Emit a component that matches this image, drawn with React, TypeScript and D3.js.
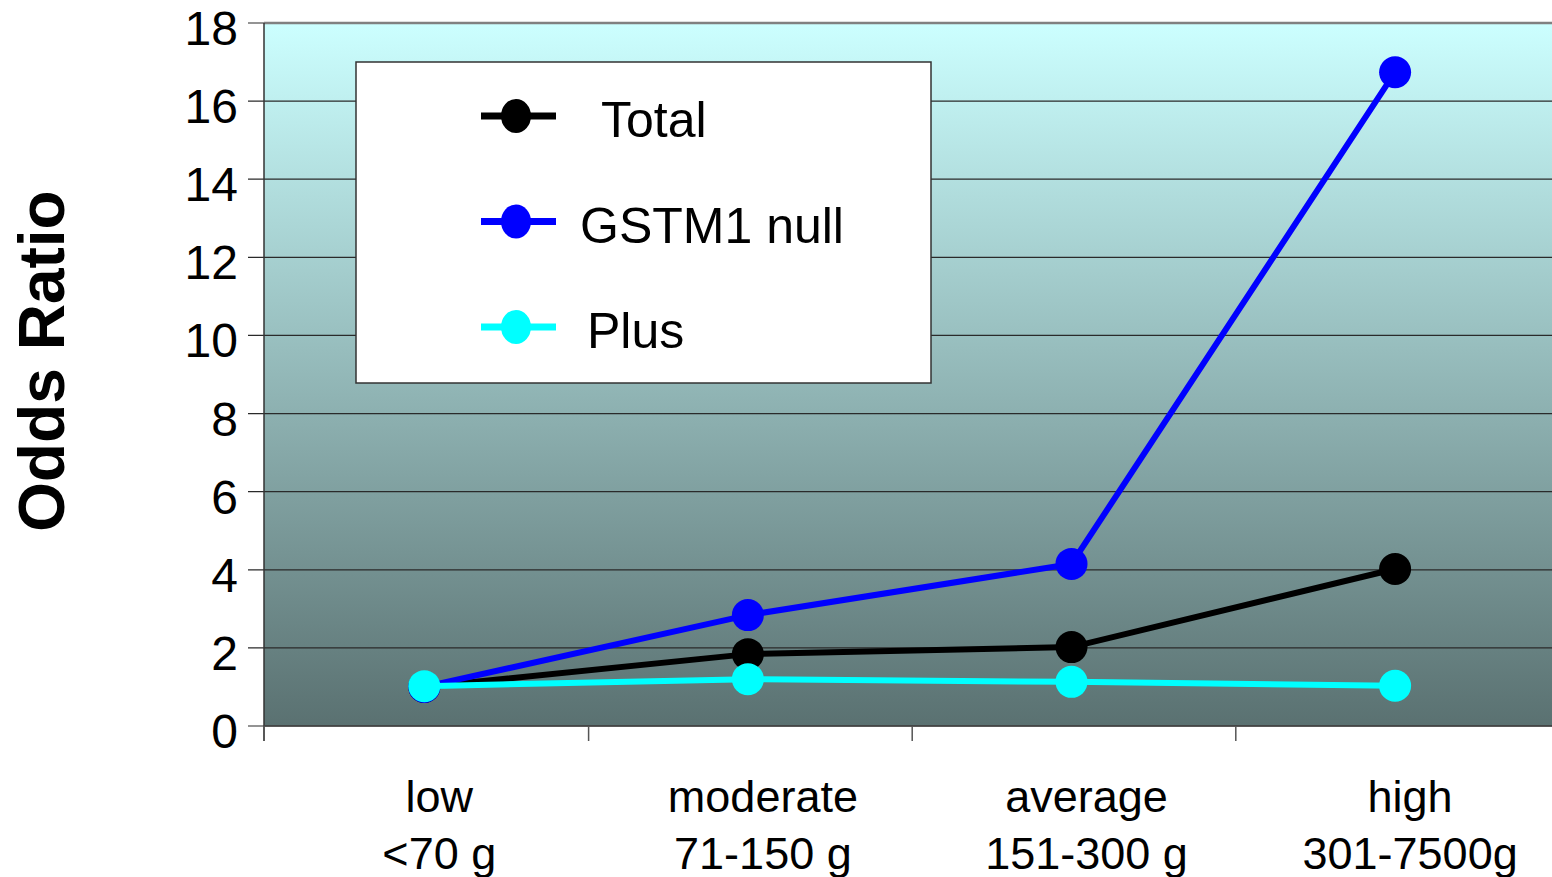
import React from "react";
import * as d3 from "d3";

const categories = ["low", "moderate", "average", "high"];
const categorySub = ["<70 g", "71-150 g", "151-300 g", "301-7500g"];
const seriesNames = ["Total", "GSTM1 null", "Plus"];
const seriesColors = ["#000000", "#0000ff", "#00ffff"];
const totalValues = [1.0, 1.84, 2.02, 4.02];
const gstm1Values = [1.0, 2.84, 4.15, 16.74];
const plusValues = [1.02, 1.2, 1.13, 1.03];
const yTicks = [0, 2, 4, 6, 8, 10, 12, 14, 16, 18];

const W = 1552;
const H = 877;
const left = 264;
const top = 23;
const bottom = 726;

export default function App() {
  const series = [totalValues, gstm1Values, plusValues];
  const x = d3.scaleBand<string>().domain(categories).range([left, left + 4 * 323.6]).padding(0);
  const y = d3.scaleLinear().domain([0, 18]).range([bottom, top]);
  const cx = (c: string) => (x(c) as number) + x.bandwidth() / 2 - 1.5;
  const line = d3
    .line<number>()
    .x((_, i) => cx(categories[i]))
    .y((v) => y(v));

  return (
    <svg
      width={W}
      height={H}
      style={{ position: "absolute", left: 0, top: 0, fontFamily: "Liberation Sans, Arial, sans-serif" }}
    >
      <defs>
        <linearGradient id="bg" x1="0" y1="0" x2="0" y2="1">
          <stop offset="0%" stopColor="#ccffff" />
          <stop offset="100%" stopColor="#5a7171" />
        </linearGradient>
      </defs>
      <rect x={left} y={top} width={W - left} height={bottom - top} fill="url(#bg)" />
      {yTicks.map((t) => (
        <g key={t}>
          <line x1={left - 16} x2={W} y1={y(t)} y2={y(t)} stroke="#2a2a2a" strokeWidth={1.2} />
          <text x={238} y={y(t) + 22} fontSize={48} textAnchor="end" fill="#000">
            {t}
          </text>
        </g>
      ))}
      <line x1={left} x2={W} y1={top} y2={top} stroke="#808080" strokeWidth={2.5} />
      <line x1={left} x2={left} y1={top} y2={bottom + 15} stroke="#333" strokeWidth={1.5} />
      <line x1={left} x2={W} y1={bottom} y2={bottom} stroke="#444" strokeWidth={1.5} />
      {categories.map((c, i) => (
        <line
          key={c}
          x1={(x(c) as number) + (i === 0 ? 0 : 1)}
          x2={(x(c) as number) + (i === 0 ? 0 : 1)}
          y1={bottom}
          y2={bottom + 15}
          stroke="#555"
          strokeWidth={1.5}
        />
      ))}
      {categories.map((c, i) => (
        <g key={c}>
          <text x={cx(c) + 15} y={812} fontSize={45} textAnchor="middle" fill="#000">
            {c}
          </text>
          <text x={cx(c) + 15} y={869} fontSize={45} textAnchor="middle" fill="#000">
            {categorySub[i]}
          </text>
        </g>
      ))}
      <text
        transform="translate(64,361) rotate(-90)"
        fontSize={64}
        fontWeight="bold"
        textAnchor="middle"
        fill="#000"
      >
        Odds Ratio
      </text>
      {series.map((vals, si) => (
        <g key={si}>
          <path d={line(vals) || ""} fill="none" stroke={seriesColors[si]} strokeWidth={6} />
          {vals.map((v, i) => (
            <circle key={i} cx={cx(categories[i])} cy={y(v)} r={16} fill={seriesColors[si]} />
          ))}
        </g>
      ))}
      <rect x={356} y={62} width={575} height={321} fill="#fff" stroke="#333" strokeWidth={1.5} />
      {seriesNames.map((n, i) => {
        const ly = 116 + i * 105.5;
        const tx = [601, 580, 587][i];
        return (
          <g key={n}>
            <line x1={481} x2={556} y1={ly} y2={ly} stroke={seriesColors[i]} strokeWidth={7} />
            <ellipse cx={516} cy={ly} rx={15} ry={17} fill={seriesColors[i]} />
            <text x={tx} y={ly + 21} fontSize={50} fill="#000">
              {n}
            </text>
          </g>
        );
      })}
    </svg>
  );
}
